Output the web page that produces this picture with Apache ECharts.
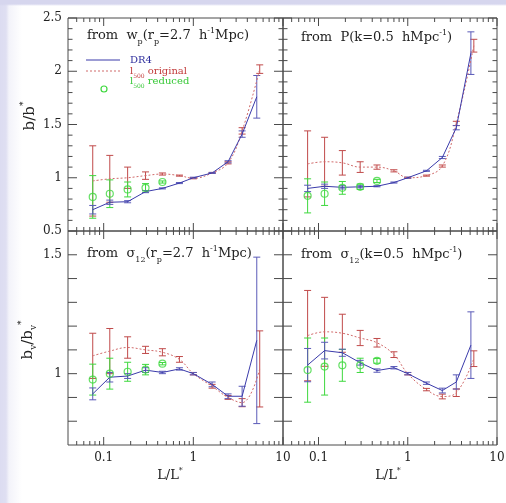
<!DOCTYPE html>
<html>
<head>
<meta charset="utf-8">
<script src="https://cdn.jsdelivr.net/npm/echarts@6/dist/echarts.min.js"></script>
<style>
  html, body { margin: 0; padding: 0; width: 506px; height: 503px; overflow: hidden; background: #ffffff; }
  #bg {
    position: absolute; left: 0; top: 0; width: 506px; height: 503px;
    background:
      linear-gradient(to bottom, #d6d6ee 0px, #d6d6ee 4px, rgba(255,255,255,0) 6px),
      linear-gradient(to right, #dcdcf1 0px, #dfdff2 6px, #f3f3fa 9px, #ffffff 22px);
  }
  #chart { position: absolute; left: 0; top: 0; width: 506px; height: 503px; }
</style>
</head>
<body>
<div id="bg"></div>
<div id="chart"></div>
<script>
// ---- luminosity bins (L/L*) ----
const lumDR4     = [0.0755, 0.117, 0.185, 0.293, 0.452, 0.70, 1.0, 1.62, 2.44, 3.5, 5.1];
const lumOrig    = [0.0755, 0.117, 0.185, 0.293, 0.452, 0.70, 1.0, 1.62, 2.44, 3.5, 5.5];
const lumReduced = [0.0755, 0.117, 0.185, 0.293, 0.452];

// ---- b/b* from w_p(r_p = 2.7 h^-1 Mpc) ----
const wpDR4        = [0.70, 0.77, 0.775, 0.87, 0.90, 0.95, 1.00, 1.045, 1.15, 1.41, 1.76];
const wpDR4Err     = [0.04, 0.02, 0.01, 0.01, 0.005, 0.005, 0.005, 0.005, 0.01, 0.03, 0.20];
const wpOrig       = [0.97, 0.99, 1.00, 1.02, 1.035, 1.02, 0.995, 1.045, 1.14, 1.44, 2.02];
const wpOrigErr    = [0.33, 0.22, 0.10, 0.035, 0.01, 0.005, 0.005, 0.005, 0.01, 0.03, 0.04];
const wpReduced    = [0.82, 0.85, 0.89, 0.905, 0.96];
const wpReducedErr = [0.20, 0.13, 0.07, 0.04, 0.01];

// ---- b/b* from P(k = 0.5 h Mpc^-1) ----
const pkDR4        = [0.90, 0.92, 0.91, 0.915, 0.92, 0.955, 1.00, 1.065, 1.19, 1.47, 2.17];
const pkDR4Err     = [0.03, 0.02, 0.015, 0.01, 0.005, 0.005, 0.005, 0.005, 0.01, 0.02, 0.20];
const pkOrig       = [1.13, 1.15, 1.14, 1.10, 1.10, 1.065, 1.00, 1.02, 1.11, 1.51, 2.24];
const pkOrigErr    = [0.31, 0.23, 0.115, 0.05, 0.02, 0.01, 0.005, 0.005, 0.01, 0.02, 0.06];
const pkReduced    = [0.83, 0.85, 0.905, 0.915, 0.97];
const pkReducedErr = [0.16, 0.11, 0.06, 0.025, 0.015];

// ---- b_v/b_v* from sigma_12(r_p = 2.7 h^-1 Mpc) ----
const s12rDR4        = [0.915, 0.985, 0.99, 1.015, 1.005, 1.02, 1.00, 0.955, 0.905, 0.905, 1.14];
const s12rDR4Err     = [0.025, 0.02, 0.01, 0.01, 0.005, 0.005, 0.005, 0.01, 0.01, 0.042, 0.35];
const s12rOrig       = [1.075, 1.095, 1.11, 1.10, 1.09, 1.06, 1.00, 0.947, 0.90, 0.878, 1.02];
const s12rOrigErr    = [0.095, 0.095, 0.045, 0.015, 0.015, 0.012, 0.005, 0.008, 0.008, 0.017, 0.16];
const s12rReduced    = [0.975, 1.0, 1.008, 1.017, 1.042];
const s12rReducedErr = [0.065, 0.065, 0.04, 0.022, 0.005];

// ---- b_v/b_v* from sigma_12(k = 0.5 h Mpc^-1) ----
const s12kDR4        = [1.036, 1.097, 1.088, 1.046, 1.013, 1.025, 1.00, 0.96, 0.929, 0.965, 1.12];
const s12kDR4Err     = [0.07, 0.035, 0.015, 0.01, 0.007, 0.005, 0.005, 0.005, 0.01, 0.03, 0.14];
const s12kOrig       = [1.16, 1.176, 1.17, 1.15, 1.13, 1.08, 1.00, 0.933, 0.904, 0.92, 1.063];
const s12kOrigErr    = [0.19, 0.145, 0.08, 0.032, 0.018, 0.012, 0.005, 0.005, 0.01, 0.016, 0.033];
const s12kReduced    = [1.015, 1.03, 1.035, 1.035, 1.054];
const s12kReducedErr = [0.135, 0.12, 0.067, 0.03, 0.01];

// ---- axis ticks and labels ----
const xMajorTicks = [0.1, 1, 10];
const xMinorTicks = [0.05, 0.06, 0.07, 0.08, 0.09, 0.2, 0.3, 0.4, 0.5, 0.6, 0.7, 0.8, 0.9, 2, 3, 4, 5, 6, 7, 8, 9];
const xTickLabels = ['0.1', '1', '10'];
const topMajorTicks = [0.5, 1, 1.5, 2, 2.5];
const topMinorTicks = [0.6, 0.7, 0.8, 0.9, 1.1, 1.2, 1.3, 1.4, 1.6, 1.7, 1.8, 1.9, 2.1, 2.2, 2.3, 2.4];
const topTickLabels = ['0.5', '1', '1.5', '2', '2.5'];
const bottomMajorTicks = [0.8, 0.9, 1.0, 1.1, 1.2, 1.3, 1.4, 1.5];
const bottomLabelValues = [1, 1.5];
const bottomTickLabels = ['1', '1.5'];

const X_RANGE = [0.04, 10];
const TOP_RANGE = [0.5, 2.5];
const BOTTOM_RANGE = [0.7, 1.6];

const FONT = 'DejaVu Serif';
const AXIS = '#4a4a4a';
const BLUE = '#3a3aaa';
const BLUE_BAR = '#5a5ab8';
const RED = '#d06a6a';
const RED_BAR = '#c04a4a';
const GREEN = '#3ed83e';

const panels = [
  { left: 68,  top: 18,  width: 215, height: 213, y: TOP_RANGE,    dr4: wpDR4,   dr4Err: wpDR4Err,   orig: wpOrig,   origErr: wpOrigErr,   red: wpReduced,   redErr: wpReducedErr,   xLab: false, yLab: true },
  { left: 283, top: 18,  width: 214, height: 213, y: TOP_RANGE,    dr4: pkDR4,   dr4Err: pkDR4Err,   orig: pkOrig,   origErr: pkOrigErr,   red: pkReduced,   redErr: pkReducedErr,   xLab: false, yLab: false },
  { left: 68,  top: 231, width: 215, height: 214, y: BOTTOM_RANGE, dr4: s12rDR4, dr4Err: s12rDR4Err, orig: s12rOrig, origErr: s12rOrigErr, red: s12rReduced, redErr: s12rReducedErr, xLab: true,  yLab: true },
  { left: 283, top: 231, width: 214, height: 214, y: BOTTOM_RANGE, dr4: s12kDR4, dr4Err: s12kDR4Err, orig: s12kOrig, origErr: s12kOrigErr, red: s12kReduced, redErr: s12kReducedErr, xLab: true,  yLab: false }
];

const pairs = (xs, ys) => ys.map((v, i) => [xs[i], v]);
const triples = (xs, ys, es) => ys.map((v, i) => [xs[i], v, es[i]]);

function errorBars(g, xs, ys, es, color, z) {
  return {
    type: 'custom', xAxisIndex: g, yAxisIndex: g, z: z, silent: true,
    encode: { x: 0, y: 1 },
    data: triples(xs, ys, es),
    renderItem(params, api) {
      const x = api.value(0), y = api.value(1), e = api.value(2);
      const t = api.coord([x, y + e]);
      const b = api.coord([x, y - e]);
      const hw = 3.5;
      const st = { stroke: color, lineWidth: 1 };
      return {
        type: 'group',
        children: [
          { type: 'line', shape: { x1: t[0], y1: t[1], x2: b[0], y2: b[1] }, style: st },
          { type: 'line', shape: { x1: t[0] - hw, y1: t[1], x2: t[0] + hw, y2: t[1] }, style: st },
          { type: 'line', shape: { x1: b[0] - hw, y1: b[1], x2: b[0] + hw, y2: b[1] }, style: st }
        ]
      };
    }
  };
}

function frame(g, p) {
  const top = p.y === TOP_RANGE;
  return {
    type: 'custom', xAxisIndex: g, yAxisIndex: g, z: 1, silent: true,
    encode: { x: 0, y: 1 },
    data: [[1, 1]],
    renderItem(params, api) {
      const kids = [];
      const st = { stroke: AXIS, lineWidth: 1 };
      const seg = (x1, y1, x2, y2) => kids.push({ type: 'line', shape: { x1, y1, x2, y2 }, style: st });
      const [ymin, ymax] = p.y;
      const xt = (v, len) => {
        const b = api.coord([v, ymin]), t = api.coord([v, ymax]);
        seg(b[0], b[1], b[0], b[1] - len);
        seg(t[0], t[1], t[0], t[1] + len);
      };
      const yt = (v, len) => {
        const l = api.coord([X_RANGE[0], v]), r = api.coord([X_RANGE[1], v]);
        seg(l[0], l[1], l[0] + len, l[1]);
        seg(r[0], r[1], r[0] - len, r[1]);
      };
      xMajorTicks.forEach(v => xt(v, 8));
      xMinorTicks.forEach(v => xt(v, 4));
      if (top) {
        topMajorTicks.forEach(v => yt(v, 9));
        topMinorTicks.forEach(v => yt(v, 4.5));
      } else {
        bottomMajorTicks.forEach(v => yt(v, 9));
      }
      const label = (text, x, y, align) => kids.push({
        type: 'text',
        style: { text, x, y, fill: '#222', font: '12px "' + FONT + '"',
                 align, textAlign: align, verticalAlign: 'middle', textVerticalAlign: 'middle' }
      });
      if (p.xLab) {
        xMajorTicks.forEach((v, i) => {
          const c = api.coord([v, ymin]);
          label(xTickLabels[i], c[0], c[1] + 13, 'center');
        });
      }
      if (p.yLab) {
        const vals = top ? topMajorTicks : bottomLabelValues;
        const texts = top ? topTickLabels : bottomTickLabels;
        vals.forEach((v, i) => {
          const c = api.coord([X_RANGE[0], v]);
          label(texts[i], c[0] - 6, c[1], 'right');
        });
      }
      return { type: 'group', children: kids };
    }
  };
}

const grid = [], xAxis = [], yAxis = [], series = [];
panels.forEach((p, g) => {
  grid.push({ left: p.left, top: p.top, width: p.width, height: p.height, show: true,
              borderColor: AXIS, borderWidth: 1, backgroundColor: 'transparent' });
  xAxis.push({ type: 'log', logBase: 10, gridIndex: g, min: X_RANGE[0], max: X_RANGE[1], show: false });
  yAxis.push({ type: 'value', gridIndex: g, min: p.y[0], max: p.y[1], show: false });
  series.push(frame(g, p));
  series.push(errorBars(g, lumOrig, p.orig, p.origErr, RED_BAR, 2));
  series.push(errorBars(g, lumReduced, p.red, p.redErr, GREEN, 3));
  series.push(errorBars(g, lumDR4, p.dr4, p.dr4Err, BLUE_BAR, 4));
  series.push({
    type: 'line', name: 'l500 original', xAxisIndex: g, yAxisIndex: g, z: 5,
    data: pairs(lumOrig, p.orig), showSymbol: false, smooth: 0.4,
    lineStyle: { color: RED, width: 1, type: [2, 2] }
  });
  series.push({
    type: 'line', name: 'DR4', xAxisIndex: g, yAxisIndex: g, z: 6,
    data: pairs(lumDR4, p.dr4), showSymbol: false,
    lineStyle: { color: BLUE, width: 1 }
  });
  series.push({
    type: 'scatter', name: 'l500 reduced', xAxisIndex: g, yAxisIndex: g, z: 7,
    data: pairs(lumReduced, p.red), symbol: 'circle', symbolSize: 7,
    itemStyle: { color: 'rgba(0,0,0,0)', borderColor: GREEN, borderWidth: 1.2 }
  });
});

// text styles for sub/superscripts
function richStyles(size, color) {
  const small = Math.round(size * 0.62);
  const shift = Math.round(size * 0.6);
  return {
    m: { fontSize: size, fontFamily: FONT, fill: color, lineHeight: size + 6 },
    s: { fontSize: small, fontFamily: FONT, fill: color, lineHeight: shift + 5, verticalAlign: 'bottom' },
    u: { fontSize: small, fontFamily: FONT, fill: color, lineHeight: shift + 5, verticalAlign: 'top' }
  };
}
function rtext(x, y, text, size, color, opts) {
  return Object.assign({
    type: 'text', x, y, silent: true,
    style: { text, rich: richStyles(size, color), fill: color, font: size + 'px "' + FONT + '"',
             align: 'left', verticalAlign: 'middle' }
  }, opts || {});
}

const graphics = [
  rtext(87, 36,  '{m|from  w}{s|p}{m|(r}{s|p}{m|=2.7  h}{u|-1}{m|Mpc)}', 13, '#222'),
  rtext(301, 38, '{m|from  P(k=0.5  hMpc}{u|-1}{m|)}', 13, '#222'),
  rtext(87, 254, '{m|from  σ}{s|12}{m|(r}{s|p}{m|=2.7  h}{u|-1}{m|Mpc)}', 13, '#222'),
  rtext(301, 255, '{m|from  σ}{s|12}{m|(k=0.5  hMpc}{u|-1}{m|)}', 13, '#222'),
  // legend
  { type: 'line', silent: true, shape: { x1: 86, y1: 60, x2: 120, y2: 60 }, style: { stroke: BLUE, lineWidth: 1 } },
  { type: 'line', silent: true, shape: { x1: 86, y1: 71, x2: 120, y2: 71 }, style: { stroke: RED, lineWidth: 1, lineDash: [2, 2] } },
  { type: 'circle', silent: true, shape: { cx: 104, cy: 89, r: 3 }, style: { fill: 'none', stroke: GREEN, lineWidth: 1.2 } },
  rtext(130, 60, '{m|DR4}', 10, '#2c2c9c'),
  rtext(130, 71, '{m|l}{s|500}{m| original}', 10, '#c23a3a'),
  rtext(130, 81, '{m|l}{s|500}{m| reduced}', 10, '#36c836'),
  // axis titles
  rtext(30, 116, '{m|b/b}{u|*}', 15, '#222', { rotation: Math.PI / 2 }),
  rtext(28, 340, '{m|b}{s|v}{m|/b}{s|v}{u|*}', 15, '#222', { rotation: Math.PI / 2 }),
  rtext(170, 476, '{m|L/L}{u|*}', 13, '#222'),
  rtext(388, 476, '{m|L/L}{u|*}', 13, '#222')
];
// centre the rotated and x titles on their anchor
graphics.slice(-4).forEach(gr => { gr.style.align = 'center'; });

const chart = echarts.init(document.getElementById('chart'), null, { renderer: 'canvas' });
chart.setOption({
  animation: false,
  backgroundColor: 'transparent',
  grid, xAxis, yAxis, series,
  graphic: { elements: graphics }
});
</script>
</body>
</html>
